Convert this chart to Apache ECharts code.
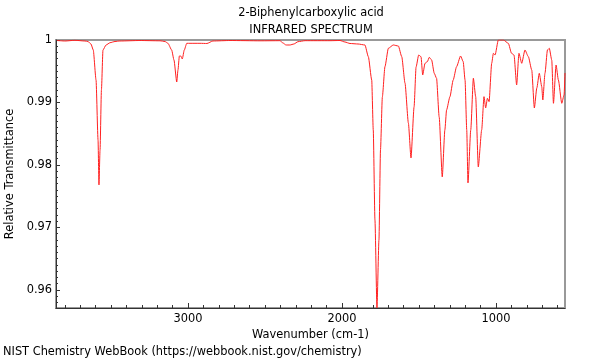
<!DOCTYPE html>
<html>
<head>
<meta charset="utf-8">
<script src="https://cdn.jsdelivr.net/npm/echarts@6/dist/echarts.min.js"></script>
<style>html,body{margin:0;padding:0;background:#fff;}#c{width:600px;height:360px;}</style>
</head>
<body>
<div id="c"></div>
<script>
const titleLines = ["2-Biphenylcarboxylic acid", "INFRARED SPECTRUM"];
const xLabel = "Wavenumber (cm-1)";
const yLabel = "Relative Transmittance";
const footer = "NIST Chemistry WebBook (https://webbook.nist.gov/chemistry)";

const wavenumber = [3851,3799,3734,3669,3649,3630,3615,3597,3584,3578,3571,3562,3552,3532,3506,3474,3442,3312,3182,3149,3130,3106,3091,3073,3065,3056,3047,3037,3024,3008,2987,2922,2877,2838,2727,2532,2403,2383,2364,2338,2312,2286,2240,2078,2013,1981,1948,1896,1851,1829,1807,1797,1786,1773,1760,1750,1738,1721,1699,1667,1634,1612,1591,1569,1552,1532,1519,1502,1487,1476,1461,1446,1433,1418,1401,1386,1369,1349,1332,1321,1299,1278,1256,1230,1213,1201,1190,1182,1164,1147,1132,1115,1093,1078,1067,1056,1045,1028,1017,1006,985,952,920,899,883,866,851,833,812,790,768,751,735,719,703,696,682,666,654,638,627,610,595,573,558,552];
const transmittance = [0.99992,0.99984,0.99995,0.99984,0.99976,0.99936,0.9984,0.9936,0.984,0.9768,0.9824,0.992,0.9984,0.9992,0.99957,0.99976,0.99984,0.99992,0.99987,0.99976,0.99947,0.9984,0.9968,0.99328,0.9952,0.99744,0.99744,0.99696,0.9984,0.99947,0.99947,0.99947,0.99944,0.99984,0.99992,0.99987,0.99989,0.99952,0.9992,0.9992,0.99936,0.99973,0.99989,0.99989,0.99992,0.99968,0.99944,0.99936,0.9992,0.99733,0.9936,0.9856,0.9712,0.95712,0.968,0.9824,0.99088,0.99573,0.99867,0.9992,0.99904,0.99733,0.99312,0.98672,0.98112,0.98928,0.99568,0.9976,0.99733,0.9944,0.99627,0.99653,0.99723,0.9968,0.99467,0.99387,0.98768,0.97808,0.9856,0.9888,0.99093,0.9936,0.99573,0.99744,0.99653,0.9936,0.9856,0.97712,0.9856,0.99387,0.99093,0.97968,0.9856,0.99093,0.98912,0.99067,0.99013,0.99627,0.99787,0.9976,1.0,1.0,0.99947,0.99787,0.9976,0.9928,0.99787,0.99627,0.9984,0.99733,0.9952,0.98912,0.99232,0.99467,0.99253,0.9904,0.99467,0.9984,0.99867,0.9968,0.98987,0.996,0.9936,0.98987,0.9912,0.99472];

const xMajorTicks = [1000, 2000, 3000];
const xMinorTicks = [600,700,800,900,1100,1200,1300,1400,1500,1600,1700,1800,1900,2100,2200,2300,2400,2500,2600,2700,2800,2900,3100,3200,3300,3400,3500,3600,3700,3800];
const yMajorTicks = [0.96, 0.97, 0.98, 0.99, 1];
const yMinorTicks = [0.958,0.959,0.961,0.962,0.963,0.964,0.965,0.966,0.967,0.968,0.969,0.971,0.972,0.973,0.974,0.975,0.976,0.977,0.978,0.979,0.981,0.982,0.983,0.984,0.985,0.986,0.987,0.988,0.989,0.991,0.992,0.993,0.994,0.995,0.996,0.997,0.998,0.999];

const X_MIN = 552, X_MAX = 3857, Y_MIN = 0.9571, Y_MAX = 1.0;
const FONT = "DejaVu Sans";
const FS = 11.4;

const chart = echarts.init(document.getElementById('c'), null, {renderer: 'canvas'});
const data = wavenumber.map((w, i) => [w, transmittance[i]]);

const baseX = {
  type: 'value', min: X_MIN, max: X_MAX, inverse: true, position: 'bottom',
  splitLine: {show: false}
};
const baseY = {
  type: 'value', min: Y_MIN, max: Y_MAX, position: 'left',
  splitLine: {show: false}
};

chart.setOption({
  animation: false,
  grid: {left: 56, right: 35, top: 40, bottom: 52, containLabel: false, outerBoundsMode: 'none',
    show: true, borderColor: '#999', borderWidth: 2, backgroundColor: 'transparent'},
  graphic: [
    {type: 'text', x: 311, y: 13, style: {text: titleLines[0], font: FS + 'px ' + FONT, fill: '#000', align: 'center', verticalAlign: 'middle'}},
    {type: 'text', x: 311, y: 30, style: {text: titleLines[1], font: FS + 'px ' + FONT, fill: '#000', align: 'center', verticalAlign: 'middle'}},
    {type: 'text', x: 3, y: 352, style: {text: footer, font: FS + 'px ' + FONT, fill: '#000', align: 'left', verticalAlign: 'middle'}}
  ],
  xAxis: [
    Object.assign({}, baseX, {
      name: xLabel, nameLocation: 'middle', nameGap: 17,
      nameTextStyle: {fontFamily: FONT, fontSize: FS, color: '#000'},
      axisLine: {show: true, lineStyle: {color: '#333', width: 1}},
      axisTick: {show: true, inside: true, length: 5, customValues: xMajorTicks, lineStyle: {color: '#333'}},
      axisLabel: {show: true, customValues: xMajorTicks, margin: 6, fontFamily: FONT, fontSize: FS, color: '#000',
        formatter: v => String(Math.round(v))}
    }),
    Object.assign({}, baseX, {
      axisLine: {show: false},
      axisTick: {show: true, inside: true, length: 3, customValues: xMinorTicks, lineStyle: {color: '#333'}},
      axisLabel: {show: false}
    })
  ],
  yAxis: [
    Object.assign({}, baseY, {
      name: yLabel, nameLocation: 'middle', nameGap: 40,
      nameTextStyle: {fontFamily: FONT, fontSize: FS, color: '#000'},
      axisLine: {show: true, lineStyle: {color: '#333', width: 1}},
      axisTick: {show: true, inside: true, length: 4, customValues: yMajorTicks, lineStyle: {color: '#333'}},
      axisLabel: {show: true, customValues: yMajorTicks, margin: 4, fontFamily: FONT, fontSize: FS, color: '#000',
        formatter: v => String(Math.round(v * 1000) / 1000)}
    }),
    Object.assign({}, baseY, {
      axisLine: {show: false},
      axisTick: {show: true, inside: true, length: 2, customValues: yMinorTicks, lineStyle: {color: '#333'}},
      axisLabel: {show: false}
    })
  ],
  series: [{
    type: 'line', data: data, xAxisIndex: 0, yAxisIndex: 0,
    showSymbol: false, smooth: 0.2, smoothMonotone: 'x',
    lineStyle: {color: '#ff2020', width: 1}, clip: true
  }]
});
</script>
</body>
</html>
